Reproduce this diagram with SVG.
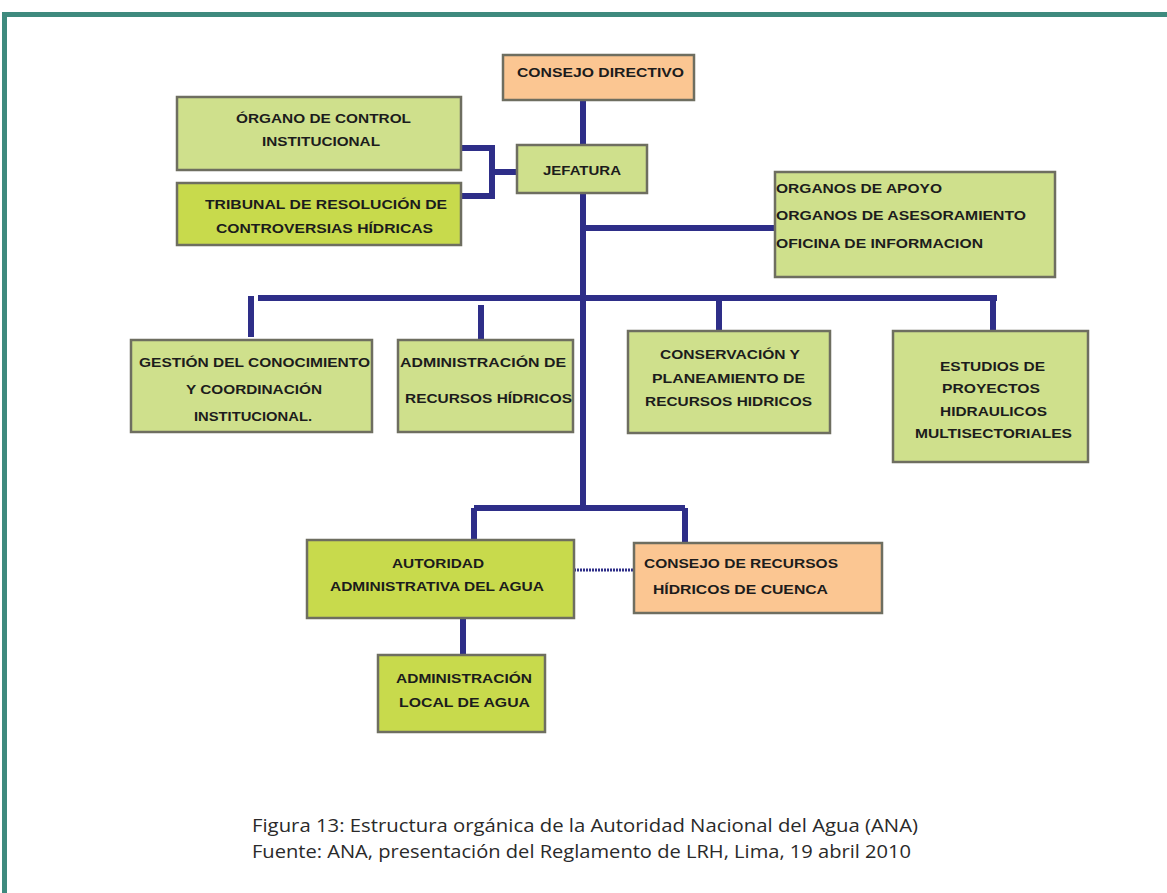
<svg xmlns="http://www.w3.org/2000/svg" width="1167" height="893" viewBox="0 0 1167 893">
<style>
.bx{stroke:#6e6e60;stroke-width:2.5}
.g{fill:#cfe08c}
.y{fill:#c8da4c}
.o{fill:#fbc692}
.t{font-family:"Liberation Sans",Arial,sans-serif;font-weight:bold;font-size:12px;fill:#1c1c1c}
.c{stroke:#2e2e88;stroke-width:6;fill:none}
.cap{font-family:"Open Sans","Noto Sans",sans-serif;font-size:17.5px;fill:#2a2a2a}
</style>
<rect x="0" y="0" width="1167" height="893" fill="#ffffff"/>
<path d="M4.5 893 V14.5 H1167" fill="none" stroke="#3e8a7e" stroke-width="5"/>
<g id="connectors">
<path class="c" d="M583 100 V145 M583 193 V508 M583 228 H775 M258 298 H997 M251 296 V337 M481 305 V340 M719 298 V331 M993 298 V331 M474 508 H685 M474 508 V540 M685 508 V543 M463 618 V655"/>
<path class="c" d="M461 148 H492 V196 H461 M492 172 H517"/>
<path d="M574 570 H634" stroke="#2e2e88" stroke-width="3" stroke-dasharray="2 1" fill="none"/>
</g>
<g id="consejo-directivo"><rect class="bx o" x="503" y="55" width="191" height="45"/><text class="t" x="517" y="77" textLength="167" lengthAdjust="spacingAndGlyphs">CONSEJO DIRECTIVO</text></g>
<g id="organo-control"><rect class="bx g" x="177" y="97" width="284" height="73"/><text class="t" x="236" y="123" textLength="175" lengthAdjust="spacingAndGlyphs">ÓRGANO DE CONTROL</text><text class="t" x="262" y="146" textLength="118" lengthAdjust="spacingAndGlyphs">INSTITUCIONAL</text></g>
<g id="jefatura"><rect class="bx g" x="517" y="145" width="130" height="48"/><text class="t" x="543" y="175" textLength="78" lengthAdjust="spacingAndGlyphs">JEFATURA</text></g>
<g id="tribunal"><rect class="bx y" x="177" y="183" width="284" height="62"/><text class="t" x="205" y="209" textLength="242" lengthAdjust="spacingAndGlyphs">TRIBUNAL DE RESOLUCIÓN DE</text><text class="t" x="216" y="233" textLength="217" lengthAdjust="spacingAndGlyphs">CONTROVERSIAS HÍDRICAS</text></g>
<g id="organos-apoyo"><rect class="bx g" x="775" y="172" width="280" height="105"/><text class="t" x="776" y="193" textLength="166" lengthAdjust="spacingAndGlyphs">ORGANOS DE APOYO</text><text class="t" x="776" y="220" textLength="250" lengthAdjust="spacingAndGlyphs">ORGANOS DE ASESORAMIENTO</text><text class="t" x="776" y="248" textLength="207" lengthAdjust="spacingAndGlyphs">OFICINA DE INFORMACION</text></g>
<g id="gestion"><rect class="bx g" x="131" y="340" width="241" height="92"/><text class="t" x="139" y="367" textLength="231" lengthAdjust="spacingAndGlyphs">GESTIÓN DEL CONOCIMIENTO</text><text class="t" x="186" y="394" textLength="136" lengthAdjust="spacingAndGlyphs">Y COORDINACIÓN</text><text class="t" x="194" y="421" textLength="118" lengthAdjust="spacingAndGlyphs">INSTITUCIONAL.</text></g>
<g id="administracion-recursos"><rect class="bx g" x="398" y="340" width="175" height="92"/><text class="t" x="400" y="367" textLength="166" lengthAdjust="spacingAndGlyphs">ADMINISTRACIÓN DE</text><text class="t" x="405" y="403" textLength="167" lengthAdjust="spacingAndGlyphs">RECURSOS HÍDRICOS</text></g>
<g id="conservacion"><rect class="bx g" x="628" y="331" width="202" height="102"/><text class="t" x="660" y="359" textLength="140" lengthAdjust="spacingAndGlyphs">CONSERVACIÓN Y</text><text class="t" x="652" y="383" textLength="153" lengthAdjust="spacingAndGlyphs">PLANEAMIENTO DE</text><text class="t" x="645" y="406" textLength="167" lengthAdjust="spacingAndGlyphs">RECURSOS HIDRICOS</text></g>
<g id="estudios"><rect class="bx g" x="893" y="331" width="195" height="131"/><text class="t" x="940" y="371" textLength="105" lengthAdjust="spacingAndGlyphs">ESTUDIOS DE</text><text class="t" x="942" y="393" textLength="98" lengthAdjust="spacingAndGlyphs">PROYECTOS</text><text class="t" x="940" y="416" textLength="107" lengthAdjust="spacingAndGlyphs">HIDRAULICOS</text><text class="t" x="915" y="438" textLength="157" lengthAdjust="spacingAndGlyphs">MULTISECTORIALES</text></g>
<g id="autoridad"><rect class="bx y" x="307" y="540" width="267" height="78"/><text class="t" x="392" y="568" textLength="92" lengthAdjust="spacingAndGlyphs">AUTORIDAD</text><text class="t" x="330" y="591" textLength="214" lengthAdjust="spacingAndGlyphs">ADMINISTRATIVA DEL AGUA</text></g>
<g id="consejo-recursos"><rect class="bx o" x="634" y="543" width="248" height="70"/><text class="t" x="644" y="568" textLength="194" lengthAdjust="spacingAndGlyphs">CONSEJO DE RECURSOS</text><text class="t" x="653" y="594" textLength="175" lengthAdjust="spacingAndGlyphs">HÍDRICOS DE CUENCA</text></g>
<g id="administracion-local"><rect class="bx y" x="378" y="655" width="167" height="77"/><text class="t" x="396" y="683" textLength="136" lengthAdjust="spacingAndGlyphs">ADMINISTRACIÓN</text><text class="t" x="399" y="707" textLength="131" lengthAdjust="spacingAndGlyphs">LOCAL DE AGUA</text></g>
<g id="caption"><text class="cap" x="252" y="832" textLength="666" lengthAdjust="spacingAndGlyphs">Figura 13: Estructura orgánica de la Autoridad Nacional del Agua (ANA)</text><text class="cap" x="252" y="858" textLength="659" lengthAdjust="spacingAndGlyphs">Fuente: ANA, presentación del Reglamento de LRH, Lima, 19 abril 2010</text></g>
</svg>
